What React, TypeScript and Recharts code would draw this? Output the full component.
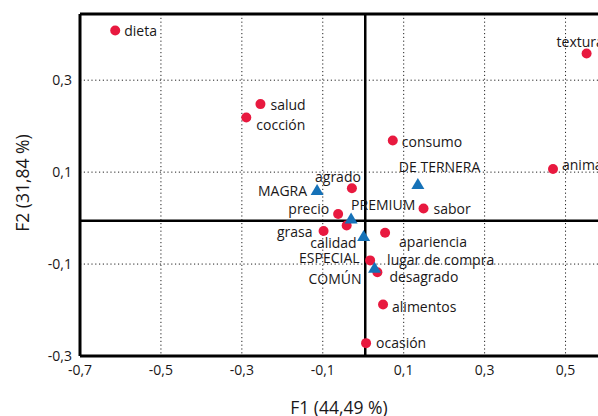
import React from 'react';
import { ScatterChart, Scatter, XAxis, YAxis, CartesianGrid, ReferenceLine } from 'recharts';

// attributes (red dots)
const attrNames = ['dieta', 'salud', 'cocción', 'textura', 'consumo', 'animal', 'agrado', 'sabor', 'precio', 'grasa', 'calidad', 'apariencia', 'lugar de compra', 'desagrado', 'alimentos', 'ocasión'];
const attrF1 = [-0.613, -0.254, -0.289, 0.552, 0.073, 0.469, -0.028, 0.149, -0.062, -0.098, -0.041, 0.054, 0.017, 0.035, 0.049, 0.007];
const attrF2 = [0.408, 0.248, 0.219, 0.358, 0.169, 0.107, 0.065, 0.021, 0.009, -0.028, -0.016, -0.032, -0.092, -0.118, -0.188, -0.272];

// meat types (blue triangles)
const typeNames = ['MAGRA', 'DE TERNERA', 'PREMIUM', 'ESPECIAL', 'COMÚN'];
const typeF1 = [-0.114, 0.135, -0.030, 0.001, 0.028];
const typeF2 = [0.061, 0.074, -0.001, -0.039, -0.108];

const xTicks = [-0.7, -0.5, -0.3, -0.1, 0.1, 0.3, 0.5];
const yTicks = [-0.3, -0.1, 0.1, 0.3];

const RED = '#E8193F';
const BLUE = '#1672B8';
const INK = '#1a1718';
const FONT = '"Open Sans", sans-serif';

// label placement relative to the marker
const LABEL_POS: Record<string, { dx: number; dy: number; anchor: 'start' | 'end' | 'middle' }> = {
    dieta: { dx: 9, dy: 0, anchor: 'start' },
    salud: { dx: 10, dy: 0, anchor: 'start' },
    'cocción': { dx: 10, dy: 7, anchor: 'start' },
    textura: { dx: -30, dy: -12, anchor: 'start' },
    consumo: { dx: 9, dy: 1, anchor: 'start' },
    animal: { dx: 9, dy: -4, anchor: 'start' },
    agrado: { dx: 9, dy: -12, anchor: 'end' },
    sabor: { dx: 10, dy: 0, anchor: 'start' },
    precio: { dx: -9, dy: -5, anchor: 'end' },
    grasa: { dx: -11, dy: 1, anchor: 'end' },
    calidad: { dx: 10, dy: 17, anchor: 'end' },
    apariencia: { dx: 14, dy: 9, anchor: 'start' },
    'lugar de compra': { dx: 17, dy: -1, anchor: 'start' },
    desagrado: { dx: 12, dy: 4, anchor: 'start' },
    alimentos: { dx: 9, dy: 2, anchor: 'start' },
    'ocasión': { dx: 10, dy: -1, anchor: 'start' },
    MAGRA: { dx: -10, dy: 0, anchor: 'end' },
    'DE TERNERA': { dx: -19, dy: -18, anchor: 'start' },
    PREMIUM: { dx: 0, dy: -14, anchor: 'start' },
    ESPECIAL: { dx: -4, dy: 21, anchor: 'end' },
    'COMÚN': { dx: -13, dy: 11, anchor: 'end' },
};

const attrData = attrNames.map((name, i) => ({ name, x: attrF1[i], y: attrF2[i] }));
const typeData = typeNames.map((name, i) => ({ name, x: typeF1[i], y: typeF2[i] }));

const fmt = (v: number) => v.toFixed(1).replace('.', ',');

const PointLabel = ({ cx, cy, name }: { cx: number; cy: number; name: string }) => {
    const p = LABEL_POS[name] || { dx: 9, dy: 0, anchor: 'start' };
    return (
        <text x={cx + p.dx} y={cy + p.dy} textAnchor={p.anchor} dominantBaseline="central"
            fontSize={14} fontFamily={FONT} fill={INK}>
            {name}
        </text>
    );
};

const dotShape = (props: any) => {
    const { cx, cy, payload } = props;
    return (
        <g>
            <circle cx={cx} cy={cy} r={5} fill={RED} />
            <PointLabel cx={cx} cy={cy} name={payload.name} />
        </g>
    );
};

const triShape = (props: any) => {
    const { cx, cy, payload } = props;
    return (
        <g>
            <polygon points={`${cx},${cy - 6} ${cx - 6.5},${cy + 5} ${cx + 6.5},${cy + 5}`} fill={BLUE} />
            <PointLabel cx={cx} cy={cy} name={payload.name} />
        </g>
    );
};

const Y_MAX = 0.444;

export default function App() {
    // fixed box over the viewport; the plot's right side is cut like the original
    return (
        <div style={{ position: 'fixed', left: 8, top: 8, width: 590, height: 408, overflow: 'hidden', background: '#fff' }}>
            <ScatterChart width={598} height={408} margin={{ top: 6, right: 0, bottom: 0, left: 0 }}>
                <CartesianGrid stroke="#222" strokeDasharray="1.2 2.6" strokeWidth={1} />
                <XAxis type="number" dataKey="x" domain={[-0.7, 0.6]} ticks={xTicks} tickFormatter={fmt}
                    allowDataOverflow height={60} tickSize={0} tickMargin={9}
                    axisLine={{ stroke: '#000', strokeWidth: 3 }}
                    tick={{ fontSize: 14, fontFamily: FONT, fill: INK }} />
                <YAxis type="number" dataKey="y" domain={[-0.3, Y_MAX]} ticks={yTicks} tickFormatter={fmt}
                    allowDataOverflow width={72} tickSize={0} tickMargin={8}
                    axisLine={{ stroke: '#000', strokeWidth: 3 }}
                    tick={{ fontSize: 14, fontFamily: FONT, fill: INK }} />
                <ReferenceLine y={Y_MAX} stroke="#000" strokeWidth={3} />
                <ReferenceLine x={0.005} stroke="#000" strokeWidth={2.5} />
                <ReferenceLine y={-0.006} stroke="#000" strokeWidth={2.5} />
                <Scatter data={attrData} shape={dotShape} isAnimationActive={false} />
                <Scatter data={typeData} shape={triShape} isAnimationActive={false} />
            </ScatterChart>
            <svg width={598} height={408} style={{ position: 'absolute', left: 0, top: 0, pointerEvents: 'none' }}>
                <text x={331} y={399} textAnchor="middle" dominantBaseline="central" fontSize={17.5} fontFamily={FONT} fill={INK}>
                    F1 (44,49 %)
                </text>
                <text transform="translate(14,175) rotate(-90)" textAnchor="middle" dominantBaseline="central"
                    fontSize={17.5} fontFamily={FONT} fill={INK}>
                    F2 (31,84 %)
                </text>
            </svg>
        </div>
    );
}
